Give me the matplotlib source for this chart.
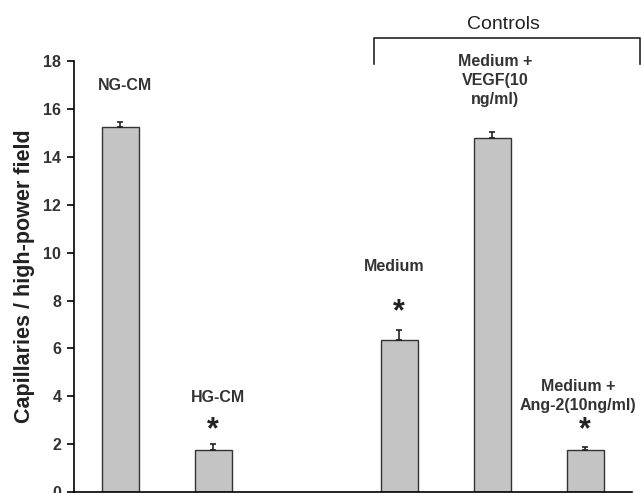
import matplotlib
matplotlib.use("Agg")
import matplotlib.pyplot as plt

positions = [0, 1, 3, 4, 5]
values = [15.25, 1.75, 6.37, 14.8, 1.75]
errors = [0.2, 0.25, 0.4, 0.25, 0.12]
labels = ["NG-CM", "HG-CM", "Medium", "Medium +\nVEGF(10\nng/ml)", "Medium +\nAng-2(10ng/ml)"]
label_y = [17.0, 3.95, 9.4, 17.2, 4.0]
label_x = [0.05, 1.05, 2.95, 4.03, 4.92]
stars = [False, True, True, False, True]
star_y = [0, 2.6, 7.5, 0, 2.6]
yticks = [0, 2, 4, 6, 8, 10, 12, 14, 16, 18]

plt.rcParams['font.family'] = ['Liberation Sans', 'DejaVu Sans']
fig = plt.figure(figsize=(6.42, 4.93), dpi=100)
ax = fig.add_axes([0.115, 0.002, 0.869, 0.874])

ax.bar(positions, values, width=0.4, color="#c4c4c4", edgecolor="#333333", linewidth=1.0, zorder=2)
ax.errorbar(positions, values, yerr=[[0]*len(values), errors], fmt="none",
            ecolor="#222222", elinewidth=1.2, capsize=2.5, capthick=1.2, zorder=3)

ax.set_xlim(-0.5, 5.5)
ax.set_ylim(0, 18)
ax.set_yticks(yticks)
ax.set_yticklabels([str(t) for t in yticks], fontsize=11.5, fontweight="bold", color="#333333")
ax.set_xticks([])
for s in ["top", "right"]:
    ax.spines[s].set_visible(False)
ax.spines["left"].set_linewidth(1.2)
ax.spines["bottom"].set_linewidth(1.2)
ax.tick_params(axis="y", length=5, width=1.2, direction="out", pad=4)
ax.set_ylabel("Capillaries / high-power field", fontsize=15.5, fontweight="bold", color="#222222", labelpad=6)

for x, y, t in zip(label_x, label_y, labels):
    ax.text(x, y, t, ha="center", va="center", fontsize=11.5, fontweight="bold",
            color="#333333", linespacing=1.35)
for x, y, s in zip(positions, star_y, stars):
    if s:
        ax.text(x, y, "*", ha="center", va="center", fontsize=22, fontweight="bold", color="#222222")

# Controls bracket
bx0, bx1 = 2.73, 5.59
ax.plot([bx0, bx0, bx1, bx1], [17.9, 18.95, 18.95, 17.9], color="#222222", lw=1.2, clip_on=False)
ax.text((bx0 + bx1) / 2 - 0.04, 19.55, "Controls", ha="center", va="center", fontsize=14,
        color="#222222", clip_on=False)

fig.savefig("out.png", dpi=100)
